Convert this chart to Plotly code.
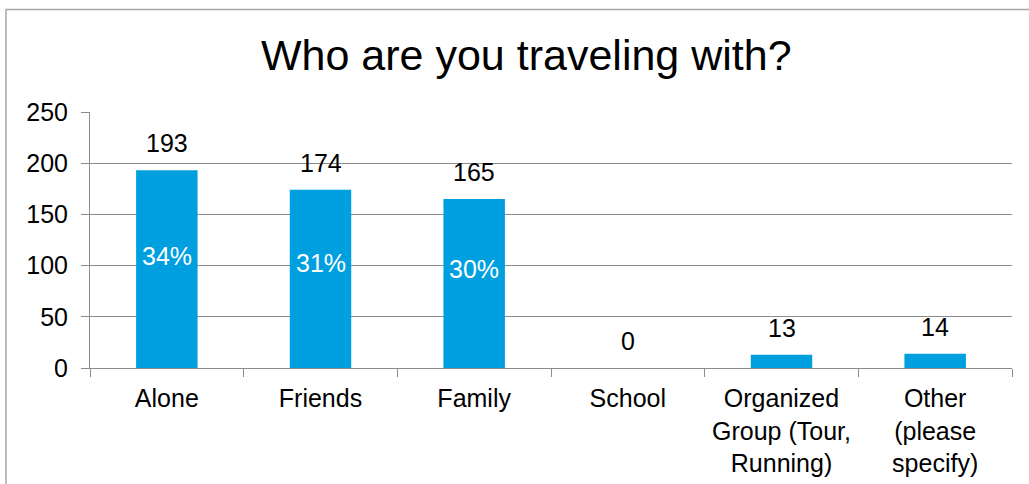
import plotly.graph_objects as go

categories = ["Alone", "Friends", "Family", "School",
              "Organized<br>Group (Tour,<br>Running)", "Other<br>(please<br>specify)"]
values = [193, 174, 165, 0, 13, 14]
pct_labels = ["34%", "31%", "30%"]
pct_label_y = [109, 103, 97]  # where the percent labels sit, in axis units
title = "Who are you traveling with?"

FONT = "Liberation Sans, Arial, sans-serif"
BLUE = "#009FDF"
GRID = "#8C8C8C"
FS = 25

fig = go.Figure()
fig.add_trace(go.Bar(
    x=categories, y=values, marker=dict(color=BLUE, line=dict(width=0)),
    width=0.4, hoverinfo="skip",
))

annotations = []
for c, v in zip(categories, values):
    annotations.append(dict(x=c, y=v, xref="x", yref="y", text=str(v), showarrow=False,
                            yanchor="bottom", yshift=11,
                            font=dict(family=FONT, size=FS, color="#000000")))
for c, t, yy in zip(categories, pct_labels, pct_label_y):
    annotations.append(dict(x=c, y=yy, xref="x", yref="y", text=t, showarrow=False,
                            yanchor="middle",
                            font=dict(family=FONT, size=FS, color="#FFFFFF")))
annotations.append(dict(x=(526 - 90) / 922, y=1.0, xref="paper", yref="paper", text=title,
                        showarrow=False, xanchor="center", yanchor="bottom", yshift=31,
                        font=dict(family=FONT, size=43, color="#000000")))

fig.update_layout(
    width=1029, height=484,
    margin=dict(l=90, r=17, t=112, b=116, autoexpand=False),
    paper_bgcolor="white", plot_bgcolor="white",
    showlegend=False,
    annotations=annotations,
    font=dict(family=FONT, size=FS, color="#000000"),
    bargap=0.6,
    shapes=[dict(type="rect", xref="paper", yref="paper",
                 x0=(6 - 90) / 922, x1=(1040 - 90) / 922,
                 y0=(368 - 500) / 256, y1=(368 - 9.5) / 256,
                 line=dict(color="#A6A6A6", width=1.5), fillcolor="rgba(0,0,0,0)", layer="below")],
)
fig.update_yaxes(
    range=[0, 250], dtick=50, showgrid=True, gridcolor=GRID, gridwidth=1,
    showline=True, linecolor=GRID, linewidth=1,
    ticks="outside", ticklen=8, tickcolor=GRID, zeroline=False,
    tickfont=dict(family=FONT, size=FS, color="#000000"), ticklabelstandoff=8,
)
fig.update_xaxes(
    showline=True, linecolor=GRID, linewidth=1, showgrid=False,
    ticks="outside", ticklen=8, tickcolor=GRID, tickson="boundaries",
    tickfont=dict(family=FONT, size=FS, color="#000000"), ticklabelstandoff=8,
)

fig.write_html("out.html")
